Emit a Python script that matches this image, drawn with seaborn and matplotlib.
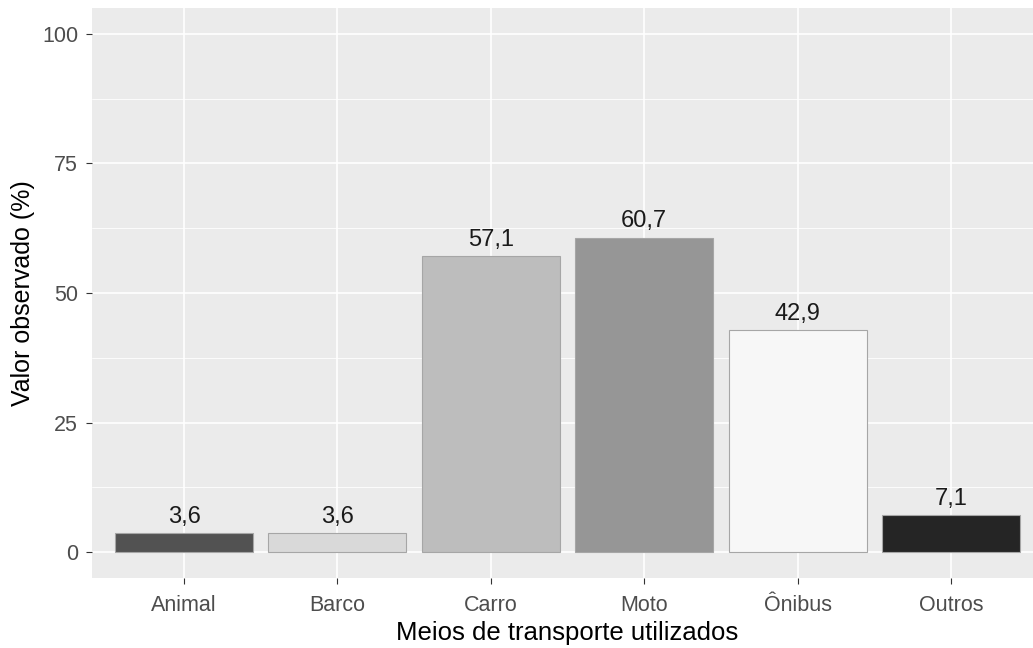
import pandas as pd
import matplotlib.pyplot as plt
import seaborn as sns
from matplotlib.ticker import MultipleLocator

# Dados do grafico
meios = ['Animal', 'Barco', 'Carro', 'Moto', 'Ônibus', 'Outros']
valores = [3.6, 3.6, 57.1, 60.7, 42.9, 7.1]
cores = ['#525252', '#D9D9D9', '#BDBDBD', '#969696', '#F7F7F7', '#252525']

df = pd.DataFrame({'Meio': meios, 'Valor': valores})

sns.set_style('darkgrid', {'axes.facecolor': '#EBEBEB', 'grid.color': 'white'})
plt.rcParams['font.family'] = ['Liberation Sans', 'DejaVu Sans']

fig = plt.figure(figsize=(10.33, 6.48), dpi=100)
ax = fig.add_axes([92 / 1033, (648 - 578) / 648, (1043 - 92) / 1033, 570 / 648])

sns.barplot(data=df, x='Meio', y='Valor', hue='Meio', order=meios, hue_order=meios,
            palette=cores, width=0.9, edgecolor='#A6A6A6', linewidth=0.8,
            legend=False, ax=ax)

for i, v in enumerate(valores):
    ax.text(i, v + 1.0, f'{v:.1f}'.replace('.', ','), ha='center', va='bottom',
            fontsize=17, color='#1A1A1A')

ax.set_xlim(-0.6, 5.6)
ax.set_ylim(-5, 105)
ax.set_yticks([0, 25, 50, 75, 100])
ax.yaxis.set_minor_locator(MultipleLocator(12.5))
ax.grid(which='major', color='white', linewidth=1.2)
ax.grid(which='minor', axis='y', color='white', linewidth=0.6)
ax.set_axisbelow(True)
for s in ax.spines.values():
    s.set_visible(False)

ax.tick_params(axis='both', which='major', length=4, width=0.8, color='#333333',
               labelsize=15.5, labelcolor='#4D4D4D', pad=6, bottom=True, left=True)
ax.tick_params(axis='x', pad=8)
ax.tick_params(which='minor', length=0)

ax.set_xlabel('Meios de transporte utilizados', fontsize=18.5, color='black', labelpad=4)
ax.set_ylabel('Valor observado (%)', fontsize=18, color='black', labelpad=5)

fig.savefig('out.png', dpi=100)
plt.close()
